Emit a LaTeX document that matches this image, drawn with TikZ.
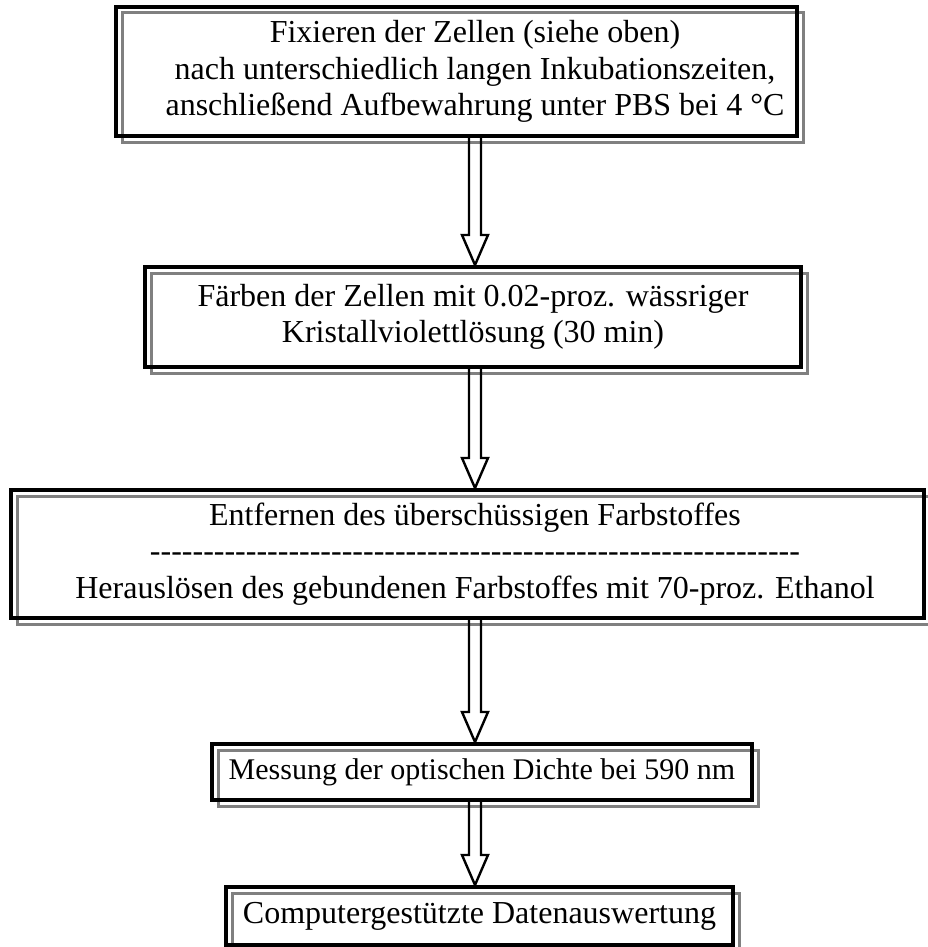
\documentclass[tikz,border=0pt]{standalone}
\usepackage{fontspec}
\setmainfont{Liberation Serif}
\usetikzlibrary{calc, positioning}

\tikzset{
  stepbox/.style={draw, line width=2pt, inner sep=0pt, align=center,
    preaction={draw=black!50, line width=1.5pt,
      transform canvas={xshift=3pt, yshift=-3pt}}},
  arrowline/.style={draw, line width=1.2pt, line join=miter}
}

% hollow block arrow from the bottom of #1 down to the top of #2
\newcommand{\hollowdown}[2]{%
  \draw[arrowline] let \p1=(#1.south), \p2=(#2.north), \p3=(axis) in
    (\x3-3pt,\y1) -- (\x3-3pt,\y2+15pt) -- (\x3-6.5pt,\y2+15pt) -- (\x3,\y2)
    -- (\x3+6.5pt,\y2+15pt) -- (\x3+3pt,\y2+15pt) -- (\x3+3pt,\y1);
}
\newcommand{\hyphenrow}{\foreach \i in {1,...,61}{-}}

\begin{document}
\begin{tikzpicture}[x=0.5pt, y=-0.5pt, font=\fontsize{16pt}{18.25pt}\selectfont]
  \useasboundingbox (0,0) rectangle (927,947);
  \coordinate (axis) at (475,0);

  \node[stepbox, minimum width=340.5pt, minimum height=64.5pt,
    label={[align=center, inner sep=0pt, xshift=9.25pt]center:{Fixieren der Zellen (siehe oben)\\
      nach unterschiedlich langen Inkubationszeiten,\\
      anschließend Aufbewahrung unter PBS bei 4 °C}}] (fix) at (456.5,71.5) {};
  \node[stepbox, minimum width=328pt, minimum height=50pt] (stain) at (473,317)
    {Färben der Zellen mit 0.02-proz. wässriger\\ Kristallviolettlösung (30 min)};
  \node[stepbox, minimum width=456.5pt, minimum height=64pt,
    label={[align=center, inner sep=0pt, xshift=3.75pt]center:{Entfernen des überschüssigen Farbstoffes\\ \hyphenrow\\
      Herauslösen des gebundenen Farbstoffes mit 70-proz. Ethanol}}] (wash) at (467.5,554) {};
  \node[stepbox, minimum width=270pt, minimum height=28pt,
    font=\fontsize{15pt}{17pt}\selectfont] (measure) at (482,772)
    {Messung der optischen Dichte bei 590 nm};
  \node[stepbox, minimum width=253.5pt, minimum height=29pt] (evaluate) at (479.5,916)
    {Computergestützte Datenauswertung};

  \hollowdown{fix}{stain}
  \hollowdown{stain}{wash}
  \hollowdown{wash}{measure}
  \hollowdown{measure}{evaluate}
\end{tikzpicture}
\end{document}
